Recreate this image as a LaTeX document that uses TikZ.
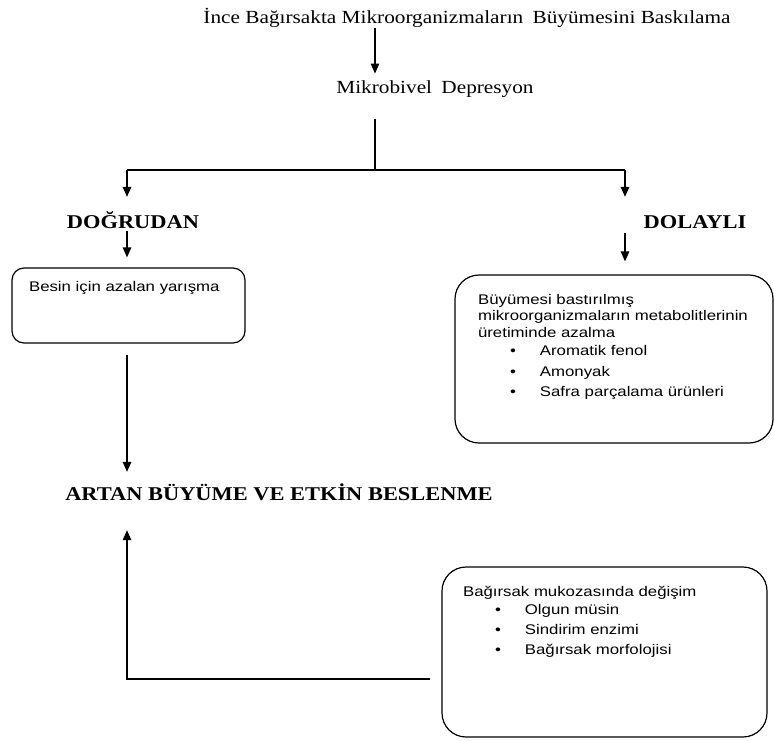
\documentclass[tikz,border=0pt]{standalone}
\usepackage{fontspec}
\setmainfont{Liberation Serif}[FakeStretch=1.15]
\setsansfont{Liberation Sans}[FakeStretch=1.2]
\usetikzlibrary{arrows.meta,positioning}
\newcommand{\madde}[1]{\hspace*{32pt}\textbullet\hspace{24pt}#1}

\begin{document}
\begin{tikzpicture}[x=1pt,y=-1pt,line width=1.3pt,>={Triangle[length=10pt,width=8.5pt]},
    baslik/.style={font=\fontsize{18.5}{22}\selectfont,inner sep=0pt,anchor=base},
    kalin/.style={font=\bfseries\fontsize{19.5}{22}\selectfont,inner sep=0pt,text height=13pt,text depth=0pt},
    kutu/.style={draw,line width=1.2pt},
    metin/.style={font=\sffamily\fontsize{14}{16.5}\selectfont,inner sep=0pt,align=left}]
\useasboundingbox (0,0) rectangle (774,740);
\coordinate (dal) at (375,170);
\coordinate (sol) at (127,170);
\coordinate (sag) at (625,170);
\coordinate (donus) at (430,679);

\node[baslik] (ince) at (467,23) {İnce Bağırsakta Mikroorganizmaların\hspace{4pt} Büyümesini Baskılama};
\node[baslik] (mikro) at (435,93) {Mikrobivel\hspace{4pt} Depresyon};
\node[kalin] (dogru) at (133,222) {DOĞRUDAN};
\node[kalin] (dolay) at (695,222) {DOLAYLI};
\node[kutu,rounded corners=12pt,minimum width=233pt,minimum height=75pt] (besin) at (128.5,305.5) {};
\node[kutu,rounded corners=24pt,minimum width=318pt,minimum height=168pt] (metab) at (614,359) {};
\node[kalin] (artan) at (279,494) {ARTAN BÜYÜME VE ETKİN BESLENME};
\node[kutu,rounded corners=24pt,minimum width=325pt,minimum height=170pt] (mukoza) at (604.5,652) {};

% kutu yazilari
\node[metin,below right=13pt and 17pt of besin.north west] (besinyazi) {Besin için azalan yarışma};
\node[metin,below right=19pt and 23pt of metab.north west] (metabyazi) {Büyümesi bastırılmış\\ mikroorganizmaların metabolitlerinin\\ üretiminde azalma\\[2pt] \madde{Aromatik fenol}\\[4pt] \madde{Amonyak}\\[4pt] \madde{Safra parçalama ürünleri}};
\node[metin,font=\sffamily\fontsize{14}{18}\selectfont,below right=19pt and 21pt of mukoza.north west] (mukozayazi) {Bağırsak mukozasında değişim\\ \madde{Olgun müsin}\\[2pt] \madde{Sindirim enzimi}\\[2pt] \madde{Bağırsak morfolojisi}};

\draw[shorten <=21pt] (mikro.south -| dal) -- (dal);
\draw (sol) -- (sag);
\path[->]
    (ince.south -| dal) edge[shorten >=6pt] (mikro.north -| dal)
    (sol) edge[shorten >=18pt] (dogru.north -| sol)
    (sag) edge[shorten >=18pt] (dolay.north -| sag)
    (dogru.south -| sol) edge[shorten <=2pt,shorten >=10pt] (besin.north -| sol)
    (dolay.south -| sag) edge[shorten <=4pt,shorten >=13pt] (metab.north -| sag)
    (besin.south -| sol) edge[shorten <=11pt,shorten >=15pt] (artan.north -| sol);
\draw[->,shorten >=29pt] (donus) -| (artan.south -| sol);
\end{tikzpicture}
\end{document}
